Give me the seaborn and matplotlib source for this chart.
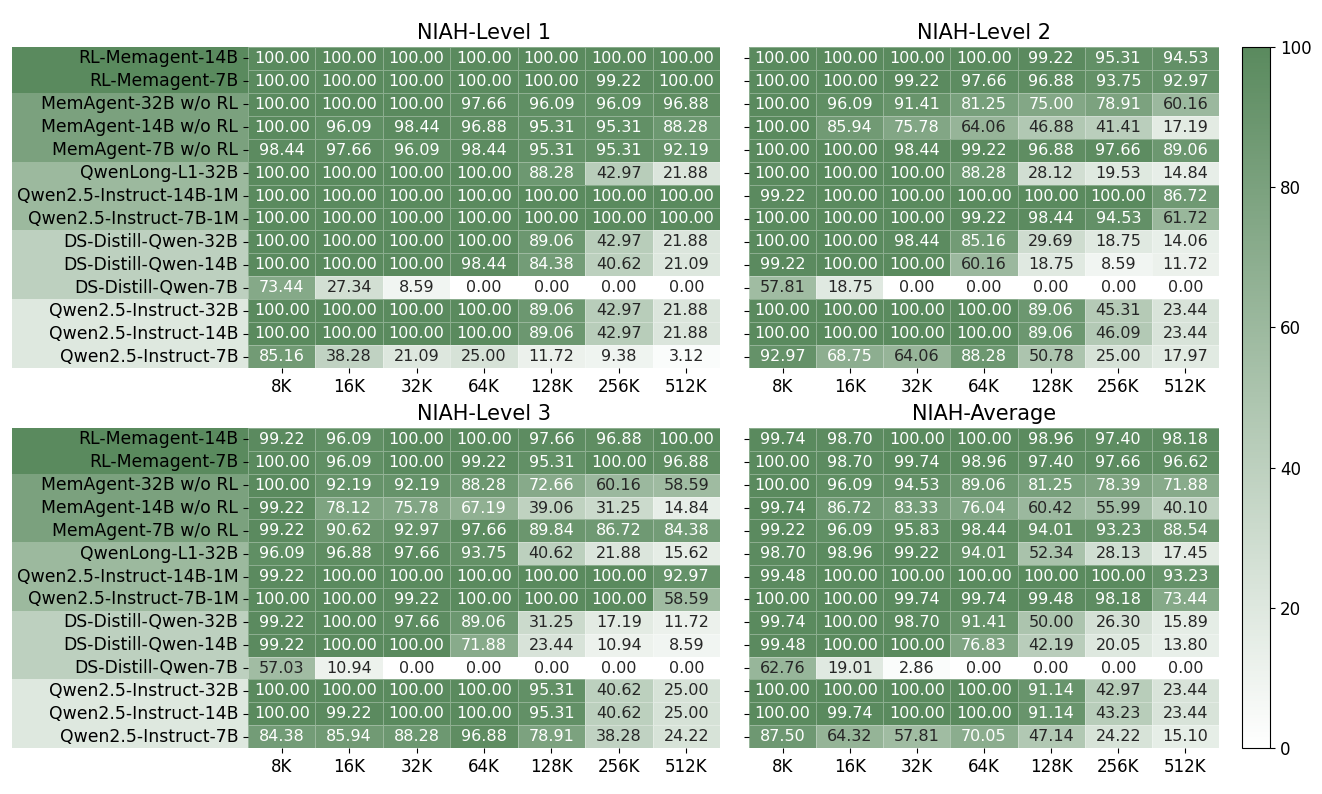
import matplotlib
matplotlib.use('Agg')
import matplotlib.pyplot as plt
from matplotlib.colors import LinearSegmentedColormap
from matplotlib.patches import Rectangle
import pandas as pd
import seaborn as sns

models = ['RL-Memagent-14B', 'RL-Memagent-7B', 'MemAgent-32B w/o RL', 'MemAgent-14B w/o RL',
          'MemAgent-7B w/o RL', 'QwenLong-L1-32B', 'Qwen2.5-Instruct-14B-1M', 'Qwen2.5-Instruct-7B-1M',
          'DS-Distill-Qwen-32B', 'DS-Distill-Qwen-14B', 'DS-Distill-Qwen-7B',
          'Qwen2.5-Instruct-32B', 'Qwen2.5-Instruct-14B', 'Qwen2.5-Instruct-7B']
lengths = ['8K', '16K', '32K', '64K', '128K', '256K', '512K']

level1 = [
    [100, 100, 100, 100, 100, 100, 100],
    [100, 100, 100, 100, 100, 99.22, 100],
    [100, 100, 100, 97.66, 96.09, 96.09, 96.88],
    [100, 96.09, 98.44, 96.88, 95.31, 95.31, 88.28],
    [98.44, 97.66, 96.09, 98.44, 95.31, 95.31, 92.19],
    [100, 100, 100, 100, 88.28, 42.97, 21.88],
    [100, 100, 100, 100, 100, 100, 100],
    [100, 100, 100, 100, 100, 100, 100],
    [100, 100, 100, 100, 89.06, 42.97, 21.88],
    [100, 100, 100, 98.44, 84.38, 40.62, 21.09],
    [73.44, 27.34, 8.59, 0, 0, 0, 0],
    [100, 100, 100, 100, 89.06, 42.97, 21.88],
    [100, 100, 100, 100, 89.06, 42.97, 21.88],
    [85.16, 38.28, 21.09, 25.00, 11.72, 9.38, 3.12],
]
level2 = [
    [100, 100, 100, 100, 99.22, 95.31, 94.53],
    [100, 100, 99.22, 97.66, 96.88, 93.75, 92.97],
    [100, 96.09, 91.41, 81.25, 75.00, 78.91, 60.16],
    [100, 85.94, 75.78, 64.06, 46.88, 41.41, 17.19],
    [100, 100, 98.44, 99.22, 96.88, 97.66, 89.06],
    [100, 100, 100, 88.28, 28.12, 19.53, 14.84],
    [99.22, 100, 100, 100, 100, 100, 86.72],
    [100, 100, 100, 99.22, 98.44, 94.53, 61.72],
    [100, 100, 98.44, 85.16, 29.69, 18.75, 14.06],
    [99.22, 100, 100, 60.16, 18.75, 8.59, 11.72],
    [57.81, 18.75, 0, 0, 0, 0, 0],
    [100, 100, 100, 100, 89.06, 45.31, 23.44],
    [100, 100, 100, 100, 89.06, 46.09, 23.44],
    [92.97, 68.75, 64.06, 88.28, 50.78, 25.00, 17.97],
]
level3 = [
    [99.22, 96.09, 100, 100, 97.66, 96.88, 100],
    [100, 96.09, 100, 99.22, 95.31, 100, 96.88],
    [100, 92.19, 92.19, 88.28, 72.66, 60.16, 58.59],
    [99.22, 78.12, 75.78, 67.19, 39.06, 31.25, 14.84],
    [99.22, 90.62, 92.97, 97.66, 89.84, 86.72, 84.38],
    [96.09, 96.88, 97.66, 93.75, 40.62, 21.88, 15.62],
    [99.22, 100, 100, 100, 100, 100, 92.97],
    [100, 100, 99.22, 100, 100, 100, 58.59],
    [99.22, 100, 97.66, 89.06, 31.25, 17.19, 11.72],
    [99.22, 100, 100, 71.88, 23.44, 10.94, 8.59],
    [57.03, 10.94, 0, 0, 0, 0, 0],
    [100, 100, 100, 100, 95.31, 40.62, 25.00],
    [100, 99.22, 100, 100, 95.31, 40.62, 25.00],
    [84.38, 85.94, 88.28, 96.88, 78.91, 38.28, 24.22],
]
average = [
    [99.74, 98.70, 100, 100, 98.96, 97.40, 98.18],
    [100, 98.70, 99.74, 98.96, 97.40, 97.66, 96.62],
    [100, 96.09, 94.53, 89.06, 81.25, 78.39, 71.88],
    [99.74, 86.72, 83.33, 76.04, 60.42, 55.99, 40.10],
    [99.22, 96.09, 95.83, 98.44, 94.01, 93.23, 88.54],
    [98.70, 98.96, 99.22, 94.01, 52.34, 28.13, 17.45],
    [99.48, 100, 100, 100, 100, 100, 93.23],
    [100, 100, 99.74, 99.74, 99.48, 98.18, 73.44],
    [99.74, 100, 98.70, 91.41, 50.00, 26.30, 15.89],
    [99.48, 100, 100, 76.83, 42.19, 20.05, 13.80],
    [62.76, 19.01, 2.86, 0, 0, 0, 0],
    [100, 100, 100, 100, 91.14, 42.97, 23.44],
    [100, 99.74, 100, 100, 91.14, 43.23, 23.44],
    [87.50, 64.32, 57.81, 70.05, 47.14, 24.22, 15.10],
]
titles = ['NIAH-Level 1', 'NIAH-Level 2', 'NIAH-Level 3', 'NIAH-Average']

# model groups for the label backgrounds: (first row, number of rows, shade level)
groups = [(0, 2, 1.0), (2, 3, 0.8), (5, 3, 0.6), (8, 3, 0.4), (11, 3, 0.2)]

cmap = LinearSegmentedColormap.from_list('greens', ['#ffffff', '#5a8a5e'])

fig = plt.figure(figsize=(13.22, 7.94), dpi=100)
positions = [
    [0.1876, 0.5365, 0.357, 0.4043],
    [0.5666, 0.5365, 0.3555, 0.4043],
    [0.1876, 0.0579, 0.357, 0.403],
    [0.5666, 0.0579, 0.3555, 0.403],
]
axes = []
for i, (data, title) in enumerate(zip([level1, level2, level3, average], titles)):
    ax = fig.add_axes(positions[i])
    df = pd.DataFrame(data, index=models, columns=lengths)
    sns.heatmap(df, ax=ax, cmap=cmap, vmin=0, vmax=100, annot=True, fmt='.2f',
                annot_kws={'fontsize': 11.5}, cbar=False,
                linewidths=0.5, linecolor=(1, 1, 1, 0.3))
    ax.set_title(title, fontsize=15)
    ax.tick_params(axis='x', labelsize=12, rotation=0)
    ax.tick_params(axis='y', labelsize=12.4, rotation=0)
    if i % 2 == 1:
        ax.set_yticklabels([])
    else:
        for start, n, level in groups:
            ax.add_patch(Rectangle((-0.5, start), 0.5, n, transform=ax.get_yaxis_transform(),
                                   facecolor=cmap(level), edgecolor='none',
                                   clip_on=False, zorder=0))
    axes.append(ax)

cax = fig.add_axes([0.9395, 0.0579, 0.0212, 0.883])
cb = fig.colorbar(axes[0].collections[0], cax=cax)
cb.set_ticks([0, 20, 40, 60, 80, 100])
cb.ax.tick_params(labelsize=12)

plt.savefig('out.png', dpi=100)
